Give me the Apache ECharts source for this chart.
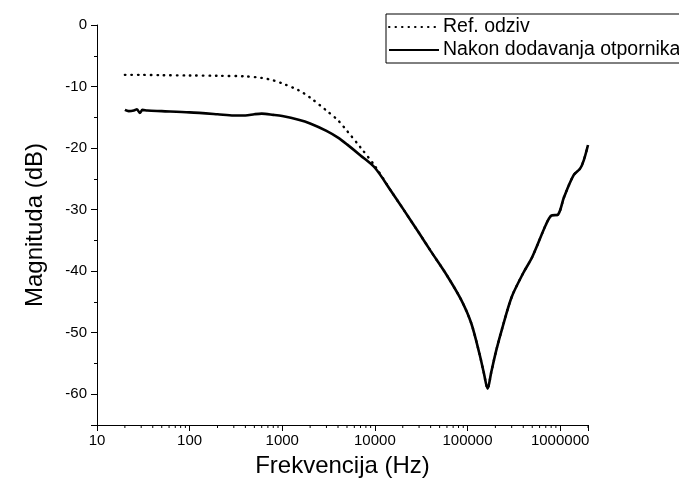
<!DOCTYPE html>
<html>
<head>
<meta charset="utf-8">
<script src="https://cdn.jsdelivr.net/npm/echarts@6/dist/echarts.min.js"></script>
<style>html,body{margin:0;padding:0;background:#fff;}#c{width:679px;height:492px;}</style>
</head>
<body>
<div id="c"></div>
<script>
// Reference response (dotted)
const refFreq = [20, 30, 50, 100, 200, 400, 600, 800, 1000, 1500, 2000, 3000, 4000, 5000, 7000, 10000,
  15000, 20000, 30000, 40000, 60000, 85000, 110000, 135000, 150000, 165000, 180000, 205000, 240000,
  300000, 400000, 500000, 700000, 800000, 950000, 1100000, 1400000, 1650000, 1800000, 2000000];
const refDb = [-8.1, -8.1, -8.15, -8.2, -8.25, -8.35, -8.6, -9.0, -9.5, -10.6, -11.8, -13.9, -15.5, -17.2, -19.9, -22.9,
  -27.0, -29.8, -33.8, -36.7, -40.7, -44.6, -48.5, -53.5, -56.5, -59.1, -56.5, -52.8, -49.0,
  -44.2, -40.3, -37.7, -32.5, -31.0, -30.8, -28.0, -24.4, -23.3, -22.0, -19.5];
// After adding the resistor (solid)
const solFreq = [20, 22, 25, 27, 29, 31, 35, 50, 100, 200, 300, 400, 500, 600, 800, 1000, 1500, 2000, 3000, 4000, 5000, 7000, 10000,
  15000, 20000, 30000, 40000, 60000, 85000, 110000, 135000, 150000, 165000, 180000, 205000, 240000,
  300000, 400000, 500000, 700000, 800000, 950000, 1100000, 1400000, 1650000, 1800000, 2000000];
const solDb = [-13.8, -14.0, -13.9, -13.7, -14.3, -13.8, -13.9, -14.0, -14.2, -14.5, -14.7, -14.7, -14.5, -14.4, -14.6, -14.8, -15.4, -16.0, -17.2, -18.3, -19.4, -21.2, -23.2,
  -27.0, -29.8, -33.8, -36.7, -40.7, -44.6, -48.5, -53.5, -56.5, -59.1, -56.5, -52.8, -49.0,
  -44.2, -40.3, -37.7, -32.5, -31.0, -30.8, -28.0, -24.4, -23.3, -22.0, -19.5];
// Log-axis minor tick values
const xMinorTicks = [];
[10, 100, 1000, 10000, 100000, 1000000].forEach(function (d) {
  for (let k = 2; k <= 9; k++) { if (d * k <= 2000000) xMinorTicks.push(d * k); }
});
const seriesNames = ['Ref. odziv', 'Nakon dodavanja otpornika'];

const font = 'Arial, "Liberation Sans", sans-serif';
const chart = echarts.init(document.getElementById('c'), null, {renderer: 'canvas'});
function zip(a, b) { return a.map(function (v, i) { return [v, b[i]]; }); }

chart.setOption({
  animation: false,
  backgroundColor: '#fff',
  textStyle: {fontFamily: font, color: '#000'},
  grid: {left: 97, right: 91, top: 25, bottom: 67, containLabel: false},
  legend: {
    orient: 'vertical', left: 386, top: 14,
    data: seriesNames,
    itemWidth: 50, itemHeight: 14, itemGap: 3,
    padding: [3, 60, 3, 2],
    backgroundColor: '#fff', borderColor: '#000', borderWidth: 1, borderRadius: 0,
    itemStyle: {color: 'rgba(0,0,0,0)', borderWidth: 0, opacity: 0},
    textStyle: {fontFamily: font, fontSize: 19.5, color: '#000', lineHeight: 20, padding: [0, 0, 0, -1]}
  },
  xAxis: {
    type: 'log', logBase: 10, min: 10, max: 2000000,
    name: 'Frekvencija (Hz)', nameLocation: 'middle', nameGap: 29,
    nameTextStyle: {fontFamily: font, fontSize: 24, color: '#000'},
    axisLine: {show: true, onZero: false, lineStyle: {color: '#000', width: 1}},
    axisTick: {show: true, inside: false, length: 6, lineStyle: {color: '#000', width: 1}},
    axisLabel: {
      fontFamily: font, fontSize: 15, color: '#000', margin: 8, showMaxLabel: true,
      formatter: function (v) {
        const l = Math.log10(v);
        return Math.abs(l - Math.round(l)) < 1e-6 ? String(Math.round(Math.pow(10, Math.round(l)))) : '';
      }
    },
    splitLine: {show: false}
  },
  yAxis: {
    type: 'value', min: -65, max: 0,
    name: 'Magnituda (dB)', nameLocation: 'middle', nameGap: 50,
    nameTextStyle: {fontFamily: font, fontSize: 24, color: '#000'},
    axisLine: {show: true, lineStyle: {color: '#000', width: 1}},
    axisTick: {show: true, length: 6, lineStyle: {color: '#000', width: 1}},
    minorTick: {show: true, splitNumber: 2, length: 3, lineStyle: {color: '#000', width: 1}},
    axisLabel: {
      fontFamily: font, fontSize: 15, color: '#000', margin: 10,
      formatter: function (v) { return (Math.round(v) % 10 === 0) ? String(Math.round(v)) : ''; }
    },
    splitLine: {show: false}
  },
  series: [
    {
      name: seriesNames[0], type: 'line', data: zip(refFreq, refDb),
      showSymbol: false, symbol: 'none', smooth: 0.3, z: 2,
      lineStyle: {color: '#000', width: 2.4, type: [0.5, 6], cap: 'round'},
      itemStyle: {color: '#000'}
    },
    {
      name: seriesNames[1], type: 'line', data: zip(solFreq, solDb),
      showSymbol: false, symbol: 'none', smooth: 0.3, z: 3,
      lineStyle: {color: '#000', width: 2.6, type: 'solid'},
      itemStyle: {color: '#000'}
    },
    {
      name: 'minorTicks', type: 'custom', silent: true, clip: false, z: 5,
      data: xMinorTicks.map(function (v) { return [v, -65]; }),
      renderItem: function (params, api) {
        const p = api.coord([api.value(0), api.value(1)]);
        return {type: 'line', shape: {x1: p[0], y1: p[1], x2: p[0], y2: p[1] + 3},
          style: {stroke: '#000', lineWidth: 1}};
      }
    }
  ]
});
</script>
</body>
</html>
